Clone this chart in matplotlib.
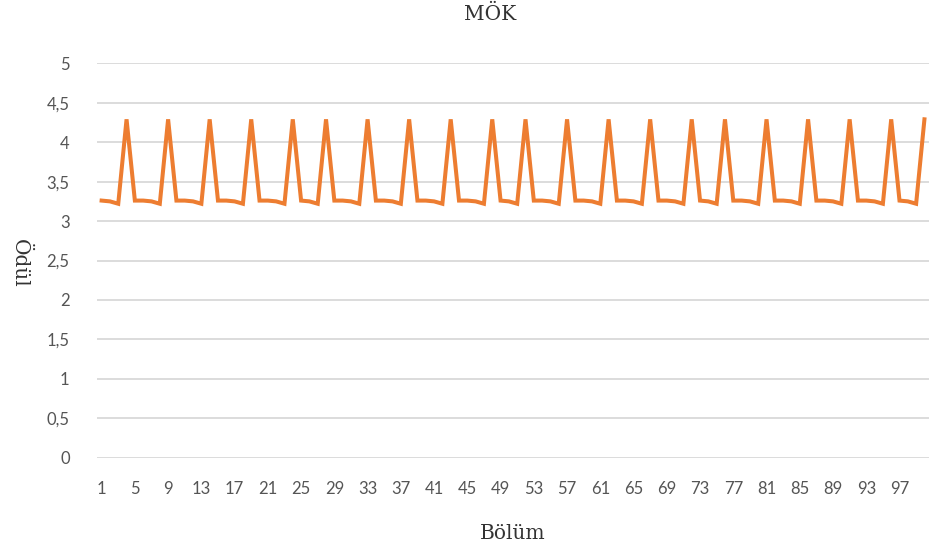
import matplotlib
matplotlib.use("Agg")
import matplotlib.pyplot as plt

# Data: episode (Bölüm) 1..100 and reward (Ödül)
episodes = list(range(1, 101))
rewards = [
    3.26, 3.25, 3.22, 4.29,
    3.26, 3.26, 3.25, 3.22, 4.29,
    3.26, 3.26, 3.25, 3.22, 4.29,
    3.26, 3.26, 3.25, 3.22, 4.29,
    3.26, 3.26, 3.25, 3.22, 4.29,
    3.26, 3.25, 3.22, 4.29,
    3.26, 3.26, 3.25, 3.22, 4.29,
    3.26, 3.26, 3.25, 3.22, 4.29,
    3.26, 3.26, 3.25, 3.22, 4.29,
    3.26, 3.26, 3.25, 3.22, 4.29,
    3.26, 3.25, 3.22, 4.29,
    3.26, 3.26, 3.25, 3.22, 4.29,
    3.26, 3.26, 3.25, 3.22, 4.29,
    3.26, 3.26, 3.25, 3.22, 4.29,
    3.26, 3.26, 3.25, 3.22, 4.29,
    3.26, 3.25, 3.22, 4.29,
    3.26, 3.26, 3.25, 3.22, 4.29,
    3.26, 3.26, 3.25, 3.22, 4.29,
    3.26, 3.26, 3.25, 3.22, 4.29,
    3.26, 3.26, 3.25, 3.22, 4.29,
    3.26, 3.25, 3.22, 4.29,
]
x_tick_values = list(range(1, 101, 4))
y_tick_values = [0, 0.5, 1, 1.5, 2, 2.5, 3, 3.5, 4, 4.5, 5]
y_tick_labels = ["0", "0,5", "1", "1,5", "2", "2,5", "3", "3,5", "4", "4,5", "5"]
title = "MÖK"
xlabel = "Bölüm"
ylabel = "Ödül"

fig = plt.figure(figsize=(9.49, 5.48), dpi=100)
ax = fig.add_axes([0.1027, 0.1646, 0.8758, 0.7199])

ax.plot(episodes, rewards, color="#ed7d31", lw=2.9, solid_joinstyle="miter", zorder=3)

ax.set_xlim(0.5, 100.5)
ax.set_ylim(0, 5)
ax.set_yticks(y_tick_values)
ax.set_yticklabels(y_tick_labels)
ax.set_xticks(x_tick_values)
ax.set_xticklabels([str(v) for v in x_tick_values])
ax.grid(axis="y", color="#d9d9d9", lw=1.3)
ax.set_axisbelow(True)
for s in ax.spines.values():
    s.set_visible(False)
ax.tick_params(axis="both", length=0, labelsize=12, colors="#555555")
ax.tick_params(axis="y", pad=20)
ax.tick_params(axis="x", pad=17)
for lab in ax.get_xticklabels() + ax.get_yticklabels():
    lab.set_fontfamily("Lato")

fig.text(0.516, 0.973, title, ha="center", va="center", fontsize=14.5,
         family="DejaVu Serif", color="#333333")
fig.text(0.5406, 0.027, xlabel, ha="center", va="center", fontsize=14.5,
         family="DejaVu Serif", color="#333333")
fig.text(0.021, 0.52, ylabel, ha="center", va="center", fontsize=14.5,
         family="DejaVu Serif", color="#333333", rotation=-90)

fig.savefig("out.png", dpi=100)
